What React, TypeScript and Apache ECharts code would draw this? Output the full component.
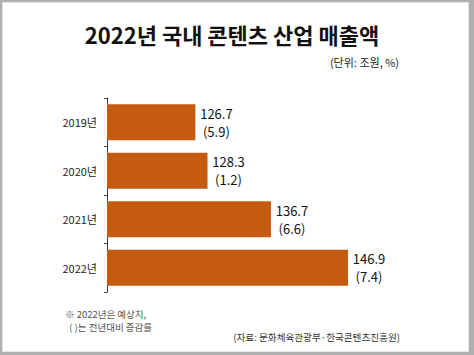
import React, { useEffect, useRef } from "react";
import * as echarts from "echarts";

const categories = ["2019년", "2020년", "2021년", "2022년"];
const revenue = [126.7, 128.3, 136.7, 146.9];
const growth = ["5.9", "1.2", "6.6", "7.4"];
const titleText = "2022년 국내 콘텐츠 산업 매출액";
const unitText = "(단위: 조원, %)";
const noteLines = ["※ 2022년은 예상치,", "  ( )는 전년대비 증감률"];
const sourceText = "(자료: 문화체육관광부·한국콘텐츠진흥원)";

const FONT = "'Noto Sans CJK KR', 'Noto Sans', sans-serif";

export default function App() {
  const ref = useRef<HTMLDivElement>(null);
  useEffect(() => {
    if (!ref.current) return;
    const chart = echarts.init(ref.current, undefined, { renderer: "svg" });
    chart.setOption({
      animation: false,
      textStyle: { fontFamily: FONT },
      grid: { left: 107, right: 27, top: 98, bottom: 63 },
      xAxis: { type: "value", min: 115, max: 160, show: false },
      yAxis: {
        type: "category",
        data: categories,
        inverse: true,
        axisLine: { show: true, lineStyle: { color: "#404040", width: 1 } },
        axisTick: { show: true, length: 3, lineStyle: { color: "#404040" } },
        axisLabel: { fontSize: 11, color: "#222", margin: 10, fontFamily: FONT },
      },
      series: [
        {
          type: "bar",
          data: revenue,
          barCategoryGap: "26%",
          itemStyle: { color: "#C55A11" },
          label: {
            show: true,
            position: "right",
            distance: 5,
            formatter: (p: any) => `{a|${p.value.toFixed(1)}}\n{a|(${growth[p.dataIndex]})}`,
            rich: {
              a: {
                width: 32,
                align: "center",
                fontSize: 13,
                lineHeight: 18,
                color: "#111",
                fontFamily: FONT,
              },
            },
          },
        },
      ],
      graphic: [
        {
          type: "text",
          x: 232,
          y: 34,
          style: {
            text: titleText,
            fontSize: 22,
            fontWeight: "bold",
            fill: "#111",
            align: "center",
            verticalAlign: "middle",
            fontFamily: FONT,
          },
        },
        {
          type: "text",
          x: 399,
          y: 62,
          style: {
            text: unitText,
            fontSize: 11,
            fill: "#222",
            align: "right",
            verticalAlign: "middle",
            fontFamily: FONT,
          },
        },
        {
          type: "text",
          x: 65,
          y: 313.5,
          style: {
            text: noteLines[0],
            fontSize: 9.5,
            fill: "#555",
            align: "left",
            verticalAlign: "middle",
            fontFamily: FONT,
          },
        },
        {
          type: "text",
          x: 65,
          y: 326.5,
          style: {
            text: noteLines[1],
            fontSize: 9.5,
            fill: "#555",
            align: "left",
            verticalAlign: "middle",
            fontFamily: FONT,
          },
        },
        {
          type: "text",
          x: 400,
          y: 337,
          style: {
            text: sourceText,
            fontSize: 9.6,
            fill: "#333",
            align: "right",
            verticalAlign: "middle",
            fontFamily: FONT,
          },
        },
      ],
    });
    return () => chart.dispose();
  }, []);

  return (
    <div style={{ position: "fixed", left: 0, top: 0, width: 474, height: 355, background: "#b0b0b0" }}>
      <div style={{ position: "absolute", left: 2, top: 2, width: 467, height: 350, background: "#fff", boxShadow: "inset 0 0 0 1px #e6e6e6" }} />
      <div ref={ref} style={{ position: "absolute", left: 0, top: 0, width: 474, height: 355 }} />
    </div>
  );
}
